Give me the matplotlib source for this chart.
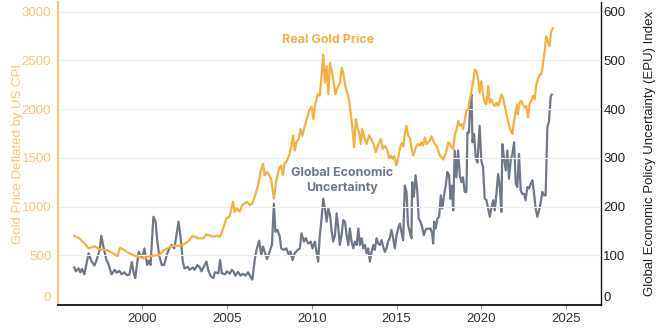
import matplotlib
matplotlib.use("Agg")
import matplotlib.pyplot as plt
import numpy as np

gold_years = [1996.0, 1996.3, 1996.6, 1996.85, 1997.2, 1997.5, 1997.9, 1998.3, 1998.55, 1998.7, 1998.96,
              1999.25, 1999.55, 1999.95, 2000.14, 2000.4, 2000.7, 2001.0, 2001.3, 2001.5, 2001.8, 2002.1,
              2002.4, 2002.7, 2003.0, 2003.3, 2003.6, 2003.8, 2004.0, 2004.2, 2004.4, 2004.6, 2004.77,
              2004.97, 2005.17, 2005.36, 2005.46, 2005.6, 2005.76, 2005.9, 2006.05, 2006.2, 2006.35,
              2006.5, 2006.64, 2006.84, 2006.98, 2007.13, 2007.23, 2007.37, 2007.5, 2007.6, 2007.77,
              2007.9, 2008.07, 2008.2, 2008.3, 2008.4, 2008.5, 2008.67, 2008.8, 2008.9, 2009.0, 2009.1,
              2009.24, 2009.34, 2009.45, 2009.6, 2009.73, 2009.85, 2009.99, 2010.1, 2010.2, 2010.35,
              2010.48, 2010.58, 2010.68, 2010.78, 2010.88, 2010.98, 2011.08, 2011.2, 2011.27, 2011.4,
              2011.53, 2011.67, 2011.76, 2011.86, 2011.96, 2012.06, 2012.16, 2012.3, 2012.4, 2012.5,
              2012.6, 2012.7, 2012.79, 2012.89, 2012.99, 2013.1, 2013.24, 2013.38, 2013.5, 2013.64,
              2013.78, 2013.93, 2014.07, 2014.19, 2014.33, 2014.46, 2014.56, 2014.68, 2014.78, 2014.88,
              2014.98, 2015.07, 2015.2, 2015.3, 2015.4, 2015.49, 2015.59, 2015.69, 2015.78, 2015.88,
              2015.98, 2016.08, 2016.18, 2016.28, 2016.37, 2016.47, 2016.57, 2016.67, 2016.77, 2016.87,
              2016.96, 2017.06, 2017.16, 2017.26, 2017.36, 2017.46, 2017.55, 2017.65, 2017.75, 2017.85,
              2017.95, 2018.05, 2018.14, 2018.24, 2018.34, 2018.44, 2018.53, 2018.63, 2018.73, 2018.83,
              2018.93, 2019.03, 2019.12, 2019.22, 2019.32, 2019.42, 2019.51, 2019.61, 2019.71, 2019.81,
              2019.9, 2020.0, 2020.1, 2020.2, 2020.3, 2020.4, 2020.5, 2020.6, 2020.7, 2020.79, 2020.89,
              2020.99, 2021.09, 2021.18, 2021.28, 2021.38, 2021.48, 2021.57, 2021.67, 2021.77, 2021.83,
              2021.9, 2022.0, 2022.1, 2022.15, 2022.26, 2022.35, 2022.45, 2022.55, 2022.65, 2022.75,
              2022.84, 2022.94, 2023.04, 2023.14, 2023.24, 2023.33, 2023.43, 2023.53, 2023.63, 2023.73,
              2023.82, 2023.92, 2024.02, 2024.12, 2024.22]
gold_values = [700, 673, 622, 571, 592, 561, 554, 520, 490, 578, 554,
               520, 497, 476, 469, 487, 497, 503, 554, 571, 595, 598,
               605, 640, 701, 673, 673, 714, 701, 690, 701, 690, 768,
               877, 900, 1050, 946, 980, 946, 1014, 1031, 1048, 1014,
               1031, 1099, 1218, 1354, 1439, 1320, 1354, 1320, 1286, 1082,
               1252, 1388, 1422, 1320, 1439, 1456, 1524, 1626, 1728, 1575, 1660,
               1694, 1796, 1728, 1830, 1905, 1983, 2027, 1898, 2040, 2152,
               2139, 2339, 2560, 2271, 2441, 2152, 2475, 2373, 2305, 2152,
               2220, 2271, 2424, 2373, 2254, 2186, 2135, 1966, 1795, 1608,
               1897, 1813, 1761, 1642, 1795, 1710, 1642, 1734, 1693, 1642,
               1557, 1642, 1693, 1591, 1625, 1574, 1496, 1523, 1489, 1517,
               1421, 1472, 1600, 1650, 1615, 1744, 1829, 1727, 1710, 1608,
               1523, 1574, 1625, 1642, 1625, 1659, 1625, 1710, 1642, 1659,
               1676, 1721, 1676, 1642, 1625, 1574, 1523, 1506, 1482, 1523,
               1574, 1659, 1642, 1608, 1591, 1744, 1778, 1880, 1829, 1846,
               1795, 1897, 1982, 1999, 2101, 2186, 2271, 2407, 2390, 2305,
               2169, 2288, 2152, 2067, 2050, 2237, 2067, 2101, 2050, 2033, 2067,
               2033, 2084, 2152, 2118, 2033, 1948, 1880, 1813, 1761, 1744,
               1846, 1948, 2050, 1948, 2067, 2084, 2050, 2016, 2033, 1914,
               2050, 2084, 2135, 2101, 2254, 2305, 2356, 2356, 2458, 2594,
               2747, 2696, 2645, 2798, 2832]

epu_years = [1996.0, 1996.1, 1996.25, 1996.36, 1996.45, 1996.6, 1996.85, 1997.03, 1997.2, 1997.3, 1997.5,
             1997.6, 1997.7, 1997.9, 1998.0, 1998.2, 1998.4, 1998.5, 1998.66, 1998.8, 1998.96, 1999.1,
             1999.25, 1999.4, 1999.5, 1999.6, 1999.8, 2000.0, 2000.14, 2000.3, 2000.4, 2000.5, 2000.67,
             2000.8, 2000.9, 2001.03, 2001.16, 2001.3, 2001.46, 2001.6, 2001.75, 2001.9, 2002.0, 2002.15,
             2002.27, 2002.4, 2002.5, 2002.7, 2002.8, 2003.0, 2003.1, 2003.26, 2003.4, 2003.5, 2003.65,
             2003.8, 2003.9, 2004.04, 2004.2, 2004.3, 2004.5, 2004.6, 2004.7, 2004.9, 2005.0, 2005.17,
             2005.3, 2005.4, 2005.5, 2005.66, 2005.8, 2005.95, 2006.1, 2006.25, 2006.4, 2006.5, 2006.64,
             2006.74, 2006.9, 2007.03, 2007.13, 2007.2, 2007.37, 2007.5, 2007.66, 2007.77, 2007.86,
             2007.98, 2008.12, 2008.2, 2008.36, 2008.5, 2008.65, 2008.75, 2008.87, 2009.0, 2009.17,
             2009.3, 2009.4, 2009.54, 2009.65, 2009.8, 2009.95, 2010.05, 2010.19, 2010.29, 2010.38,
             2010.48, 2010.58, 2010.68, 2010.78, 2010.88, 2010.98, 2011.08, 2011.18, 2011.27, 2011.37,
             2011.47, 2011.57, 2011.66, 2011.76, 2011.86, 2011.96, 2012.06, 2012.16, 2012.25, 2012.35,
             2012.45, 2012.55, 2012.65, 2012.75, 2012.84, 2012.94, 2013.04, 2013.14, 2013.24, 2013.33,
             2013.43, 2013.53, 2013.63, 2013.72, 2013.82, 2013.92, 2014.02, 2014.12, 2014.21, 2014.31,
             2014.41, 2014.5, 2014.6, 2014.7, 2014.8, 2014.9, 2015.0, 2015.1, 2015.2, 2015.29, 2015.39,
             2015.49, 2015.59, 2015.68, 2015.78, 2015.88, 2015.92, 2016.02, 2016.12, 2016.22, 2016.31,
             2016.41, 2016.51, 2016.61, 2016.71, 2016.8, 2016.9, 2017.0, 2017.1, 2017.16, 2017.22,
             2017.31, 2017.41, 2017.51, 2017.61, 2017.7, 2017.8, 2017.9, 2018.0, 2018.1, 2018.18,
             2018.25, 2018.34, 2018.43, 2018.53, 2018.63, 2018.73, 2018.83, 2018.92, 2019.02, 2019.12,
             2019.18, 2019.27, 2019.36, 2019.42, 2019.48, 2019.57, 2019.67, 2019.77, 2019.9, 2020.0,
             2020.1, 2020.2, 2020.3, 2020.4, 2020.5, 2020.6, 2020.7, 2020.79, 2020.89, 2020.99, 2021.09,
             2021.18, 2021.24, 2021.33, 2021.44, 2021.53, 2021.63, 2021.73, 2021.83, 2021.93, 2022.03,
             2022.12, 2022.22, 2022.32, 2022.42, 2022.52, 2022.61, 2022.71, 2022.81, 2022.91, 2023.01,
             2023.11, 2023.2, 2023.3, 2023.4, 2023.5, 2023.6, 2023.69, 2023.79, 2023.89, 2023.99,
             2024.09, 2024.15]
epu_values = [75, 67, 73, 65, 72, 61, 104, 87, 79, 88, 111,
              140, 121, 90, 84, 61, 70, 64, 68, 61, 65, 59,
              60, 86, 65, 53, 107, 95, 114, 80, 89, 80, 179,
              169, 128, 97, 80, 80, 101, 114, 121, 114, 135, 169,
              138, 87, 73, 76, 70, 75, 70, 80, 75, 67, 77,
              87, 70, 57, 53, 65, 63, 90, 63, 61, 67, 62,
              70, 66, 58, 66, 58, 62, 58, 65, 55, 50, 90,
              110, 130, 100, 118, 110, 92, 105, 122, 206, 148,
              152, 138, 114, 111, 114, 101, 108, 90, 104, 111,
              114, 145, 128, 135, 124, 128, 114, 128, 107, 87,
              141, 175, 216, 196, 169, 196, 182, 148, 128, 141,
              186, 155, 121, 141, 172, 169, 141, 121, 155, 128,
              114, 128, 121, 155, 121, 135, 114, 121, 104, 114,
              87, 107, 121, 111, 135, 124, 121, 131, 118, 107,
              114, 128, 135, 152, 135, 114, 141, 155, 165, 148, 131,
              243, 230, 162, 148, 135, 250, 220, 264, 233, 175,
              169, 158, 141, 152, 155, 154, 155, 145, 124, 169,
              155, 175, 179, 223, 196, 223, 243, 271, 264, 216,
              243, 192, 315, 260, 315, 264, 250, 260, 230, 230,
              352, 352, 420, 430, 332, 349, 300, 290, 366, 294,
              281, 216, 213, 196, 179, 199, 213, 192, 226, 267, 240,
              189, 328, 301, 274, 315, 257, 294, 308, 332, 247,
              240, 308, 233, 226, 226, 213, 240, 237, 247, 254,
              226, 196, 179, 192, 209, 230, 223, 223, 362, 376,
              427, 430]

gold_ticks = [0, 500, 1000, 1500, 2000, 2500, 3000]
epu_ticks = [0, 100, 200, 300, 400, 500, 600]
year_ticks = [2000, 2005, 2010, 2015, 2020, 2025]

GOLD = "#F4B13F"
GOLD_LIGHT = "#F7C574"
GRAY = "#6F7887"

fig = plt.figure(figsize=(6.6, 3.3), dpi=100)
ax = fig.add_axes([0.088, 0.076, 0.822, 0.918])
ax2 = ax.twinx()

ax2.plot(epu_years, epu_values, color=GRAY, lw=1.6, solid_joinstyle="round")
ax.plot(gold_years, gold_values, color=GOLD, lw=1.6, solid_joinstyle="round", zorder=3)
ax.set_zorder(ax2.get_zorder() + 1)
ax.patch.set_visible(False)

ax.set_xlim(1995.05, 2027.03)
ax.set_ylim(-10, 3100)
ax2.set_ylim(-2, 620)

ax.set_yticks(gold_ticks)
ax.set_yticklabels([str(t) for t in gold_ticks])
ax2.set_yticks(epu_ticks)
ax2.set_yticklabels([str(t) for t in epu_ticks])
ax.set_xticks(year_ticks)
ax.set_xticklabels([str(t) for t in year_ticks])

tick_font = "Liberation Sans"
ax.tick_params(axis="y", length=0, pad=5, labelsize=9.5, labelcolor=GOLD_LIGHT)
ax2.tick_params(axis="y", length=0, pad=2, labelsize=9.5, labelcolor="#222222")
ax.tick_params(axis="x", length=3, width=0.8, color="#999999", pad=3, labelsize=9.5, labelcolor="#333333")
for lab in ax.get_yticklabels() + ax2.get_yticklabels() + ax.get_xticklabels():
    lab.set_fontfamily(tick_font)
ax.get_yticklabels()[0].set_va("bottom")
ax2.get_yticklabels()[0].set_va("bottom")

ax.yaxis.grid(True, color="#EFEFEF", lw=0.8)
ax.set_axisbelow(True)

for s in ["top", "right"]:
    ax.spines[s].set_visible(False)
ax.spines["left"].set_color(GOLD_LIGHT)
ax.spines["left"].set_linewidth(1.5)
ax.spines["bottom"].set_color("#111111")
ax.spines["bottom"].set_linewidth(1.3)
for s in ["top", "left", "bottom"]:
    ax2.spines[s].set_visible(False)
ax2.spines["right"].set_color("#111111")
ax2.spines["right"].set_linewidth(1.0)

ax.set_ylabel("Gold Price Deflated by US CPI", color=GOLD_LIGHT, fontsize=9.5,
              fontfamily=tick_font)
ax.yaxis.set_label_coords(-0.062, 0.5)
ax2.set_ylabel("Global Economic Policy Uncertainty (EPU) Index", color="#222222", fontsize=9.5,
               fontfamily=tick_font)
ax2.yaxis.set_label_coords(1.080, 0.5)

ax.text(2010.95, 2710, "Real Gold Price", color=GOLD, fontsize=9, fontweight="bold",
        fontfamily="Inter", ha="center", va="center")
ax.text(2011.8, 1270, "Global Economic\nUncertainty", color=GRAY, fontsize=9, fontweight="bold",
        fontfamily="Inter", ha="center", va="center", linespacing=1.25, zorder=5)

fig.savefig("out.png", dpi=100)
